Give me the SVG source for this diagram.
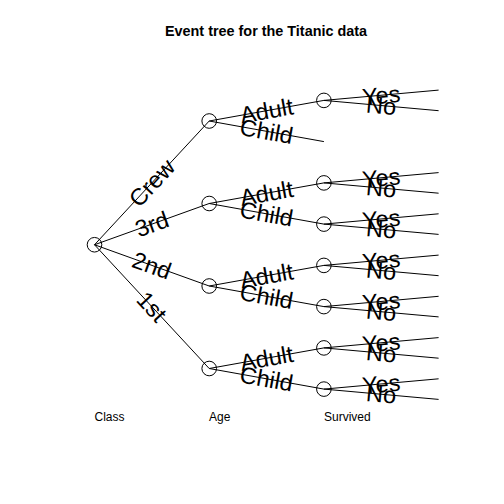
<svg xmlns="http://www.w3.org/2000/svg" width="504" height="504" viewBox="0 0 504 504">
<style>
.bg{fill:#ffffff}
.e{stroke:#000;stroke-width:1;fill:none}
.n{stroke:#000;stroke-width:1;fill:none}
.lb{font-family:"Liberation Sans",Arial,sans-serif;font-size:23.5px;fill:#000;text-anchor:middle}
.ax{font-family:"Liberation Sans",Arial,sans-serif;font-size:12px;fill:#000}
.title{font-family:"Liberation Sans",Arial,sans-serif;font-size:14.4px;font-weight:bold;fill:#000;text-anchor:middle}
</style>
<rect class="bg" x="0" y="0" width="504" height="504"/>
<text class="title" x="266" y="35.5">Event tree for the Titanic data</text>
<g id="connectors">
<line class="e" x1="94.5" y1="244.75" x2="209.2" y2="121"/>
<line class="e" x1="94.5" y1="244.75" x2="209.2" y2="203.5"/>
<line class="e" x1="94.5" y1="244.75" x2="209.2" y2="286"/>
<line class="e" x1="94.5" y1="244.75" x2="209.2" y2="368.5"/>
<line class="e" x1="209.2" y1="121" x2="323.9" y2="100.4"/>
<line class="e" x1="209.2" y1="121" x2="323.9" y2="141.6"/>
<line class="e" x1="209.2" y1="203.5" x2="323.9" y2="182.9"/>
<line class="e" x1="209.2" y1="203.5" x2="323.9" y2="224.1"/>
<line class="e" x1="209.2" y1="286" x2="323.9" y2="265.4"/>
<line class="e" x1="209.2" y1="286" x2="323.9" y2="306.6"/>
<line class="e" x1="209.2" y1="368.5" x2="323.9" y2="347.9"/>
<line class="e" x1="209.2" y1="368.5" x2="323.9" y2="389.1"/>
<line class="e" x1="323.9" y1="100.4" x2="438.6" y2="90.1"/>
<line class="e" x1="323.9" y1="100.4" x2="438.6" y2="110.7"/>
<line class="e" x1="323.9" y1="182.9" x2="438.6" y2="172.6"/>
<line class="e" x1="323.9" y1="182.9" x2="438.6" y2="193.2"/>
<line class="e" x1="323.9" y1="224.1" x2="438.6" y2="213.8"/>
<line class="e" x1="323.9" y1="224.1" x2="438.6" y2="234.4"/>
<line class="e" x1="323.9" y1="265.4" x2="438.6" y2="255.1"/>
<line class="e" x1="323.9" y1="265.4" x2="438.6" y2="275.7"/>
<line class="e" x1="323.9" y1="306.6" x2="438.6" y2="296.3"/>
<line class="e" x1="323.9" y1="306.6" x2="438.6" y2="316.9"/>
<line class="e" x1="323.9" y1="347.9" x2="438.6" y2="337.6"/>
<line class="e" x1="323.9" y1="347.9" x2="438.6" y2="358.2"/>
<line class="e" x1="323.9" y1="389.1" x2="438.6" y2="378.8"/>
<line class="e" x1="323.9" y1="389.1" x2="438.6" y2="399.4"/>
</g>
<g id="edge-labels">
<text class="lb" transform="translate(151.85,182.875) rotate(-47.18)" y="8.2">Crew</text>
<text class="lb" transform="translate(151.85,224.125) rotate(-19.78)" y="8.2">3rd</text>
<text class="lb" transform="translate(151.85,265.375) rotate(19.78)" y="8.2">2nd</text>
<text class="lb" transform="translate(151.85,306.625) rotate(47.18)" y="8.2">1st</text>
<text class="lb" transform="translate(266.55,110.7) rotate(-10.18)" y="8.2">Adult</text>
<text class="lb" transform="translate(266.55,131.3) rotate(10.18)" y="8.2">Child</text>
<text class="lb" transform="translate(266.55,193.2) rotate(-10.18)" y="8.2">Adult</text>
<text class="lb" transform="translate(266.55,213.8) rotate(10.18)" y="8.2">Child</text>
<text class="lb" transform="translate(266.55,275.7) rotate(-10.18)" y="8.2">Adult</text>
<text class="lb" transform="translate(266.55,296.3) rotate(10.18)" y="8.2">Child</text>
<text class="lb" transform="translate(266.55,358.2) rotate(-10.18)" y="8.2">Adult</text>
<text class="lb" transform="translate(266.55,378.8) rotate(10.18)" y="8.2">Child</text>
<text class="lb" transform="translate(381.25,95.25) rotate(-5.13)" y="8.2">Yes</text>
<text class="lb" transform="translate(381.25,105.55) rotate(5.13)" y="8.2">No</text>
<text class="lb" transform="translate(381.25,177.75) rotate(-5.13)" y="8.2">Yes</text>
<text class="lb" transform="translate(381.25,188.05) rotate(5.13)" y="8.2">No</text>
<text class="lb" transform="translate(381.25,218.95) rotate(-5.13)" y="8.2">Yes</text>
<text class="lb" transform="translate(381.25,229.25) rotate(5.13)" y="8.2">No</text>
<text class="lb" transform="translate(381.25,260.25) rotate(-5.13)" y="8.2">Yes</text>
<text class="lb" transform="translate(381.25,270.55) rotate(5.13)" y="8.2">No</text>
<text class="lb" transform="translate(381.25,301.45) rotate(-5.13)" y="8.2">Yes</text>
<text class="lb" transform="translate(381.25,311.75) rotate(5.13)" y="8.2">No</text>
<text class="lb" transform="translate(381.25,342.75) rotate(-5.13)" y="8.2">Yes</text>
<text class="lb" transform="translate(381.25,353.05) rotate(5.13)" y="8.2">No</text>
<text class="lb" transform="translate(381.25,383.95) rotate(-5.13)" y="8.2">Yes</text>
<text class="lb" transform="translate(381.25,394.25) rotate(5.13)" y="8.2">No</text>
</g>
<g id="node-root"><circle class="n" cx="94.5" cy="244.75" r="7.3"/></g>
<g id="node-crew"><circle class="n" cx="209.2" cy="121" r="7.3"/></g>
<g id="node-3rd"><circle class="n" cx="209.2" cy="203.5" r="7.3"/></g>
<g id="node-2nd"><circle class="n" cx="209.2" cy="286" r="7.3"/></g>
<g id="node-1st"><circle class="n" cx="209.2" cy="368.5" r="7.3"/></g>
<g id="node-crew-adult"><circle class="n" cx="323.9" cy="100.4" r="7.3"/></g>
<g id="node-3rd-adult"><circle class="n" cx="323.9" cy="182.9" r="7.3"/></g>
<g id="node-3rd-child"><circle class="n" cx="323.9" cy="224.1" r="7.3"/></g>
<g id="node-2nd-adult"><circle class="n" cx="323.9" cy="265.4" r="7.3"/></g>
<g id="node-2nd-child"><circle class="n" cx="323.9" cy="306.6" r="7.3"/></g>
<g id="node-1st-adult"><circle class="n" cx="323.9" cy="347.9" r="7.3"/></g>
<g id="node-1st-child"><circle class="n" cx="323.9" cy="389.1" r="7.3"/></g>
<g id="axis-labels">
<text class="ax" x="94.5" y="420.5">Class</text>
<text class="ax" x="209" y="420.5">Age</text>
<text class="ax" x="324" y="420.5">Survived</text>
</g>
</svg>
